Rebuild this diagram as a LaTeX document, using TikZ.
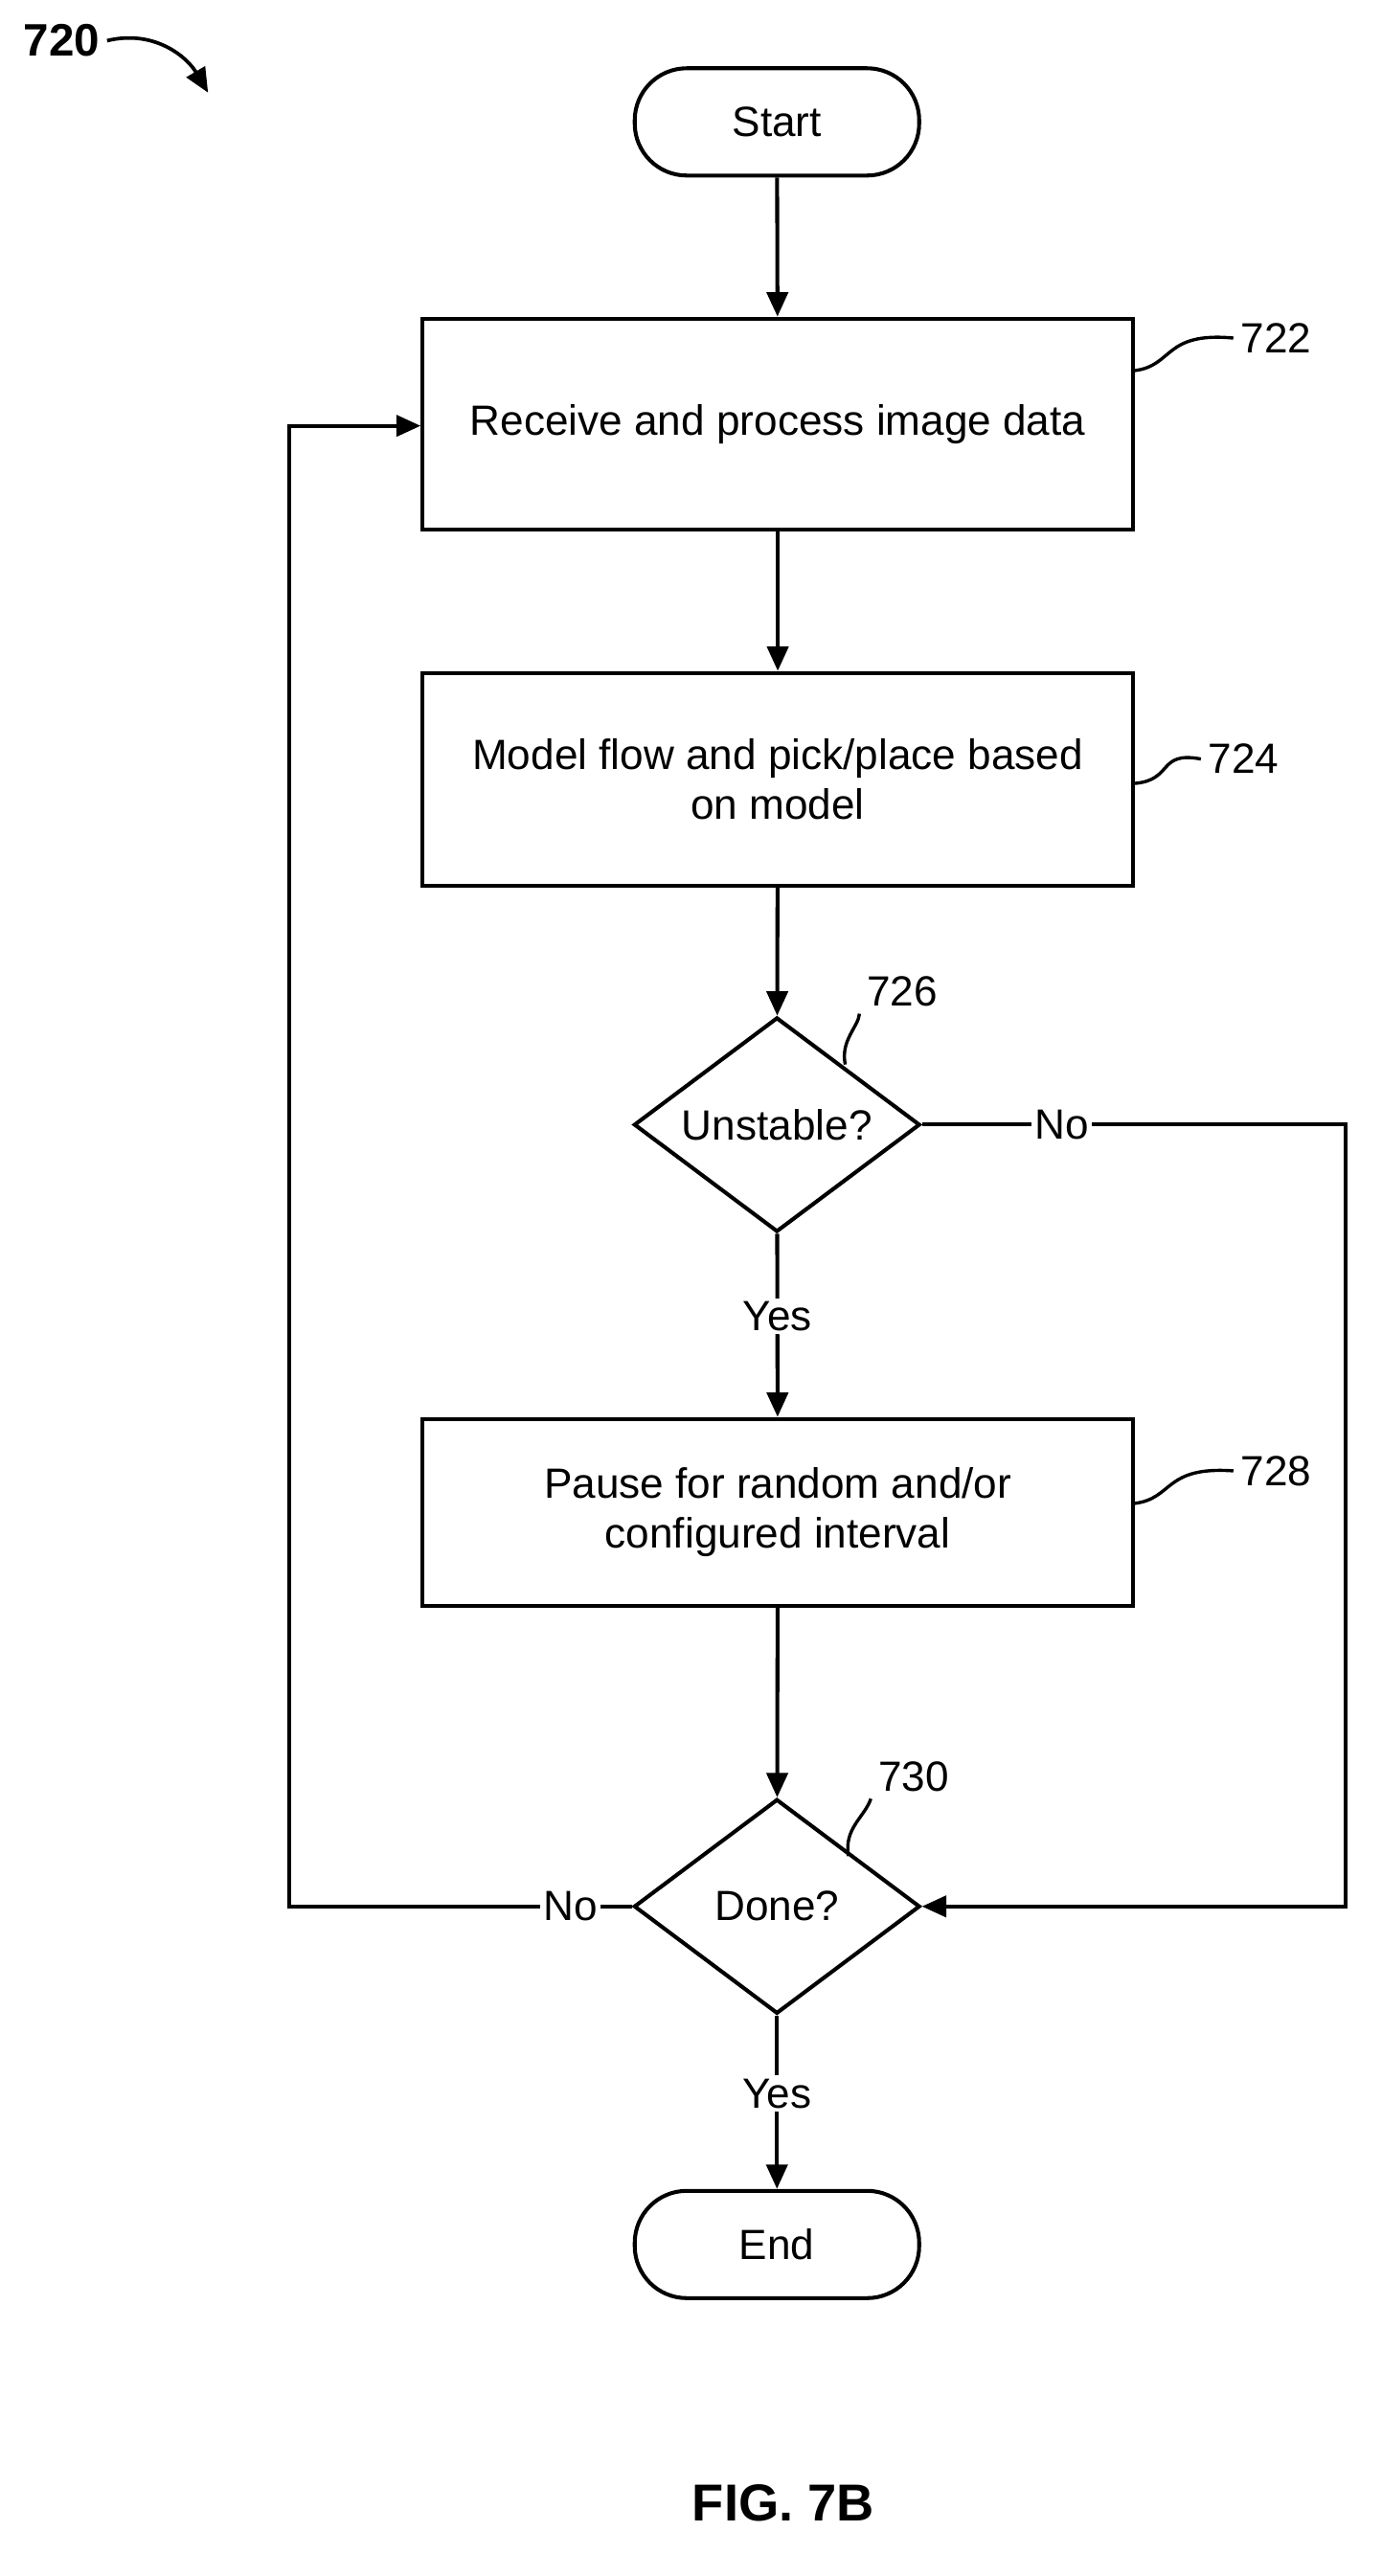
\documentclass[tikz,border=0pt]{standalone}
\usepackage{fontspec}
\setmainfont{Liberation Sans}
\usetikzlibrary{shapes.geometric,arrows.meta}
\begin{document}
\begin{tikzpicture}[x=1pt,y=-1pt,line width=2.4pt,
  font=\fontsize{26}{31}\selectfont,
  box/.style={draw,minimum width=437pt,align=center,inner sep=0pt},
  term/.style={draw,rounded corners=32pt,minimum width=175pt,minimum height=66pt},
  dia/.style={draw,diamond,aspect=1.33,minimum width=176pt,minimum height=132pt,inner sep=0pt},
  arr/.style={-{Triangle[length=15pt,width=13pt]}},
  lbl/.style={fill=white,inner sep=2pt},
  ref/.style={line width=2pt}]
\useasboundingbox (0,0) rectangle (850,1585);
\node[term] (start) at (478,75) {Start};
\node[box,minimum height=130pt] (b722) at (478.5,261) {Receive and process image data};
\node[box,minimum height=131pt] (b724) at (478.5,479.5) {Model flow and pick/place based\\on model};
\node[dia] (d726) at (478,692) {Unstable?};
\node[box,minimum height=115pt] (b728) at (478.5,930.5) {Pause for random and/or\\configured interval};
\node[dia] (d730) at (478,1173) {Done?};
\node[term] (end) at (478,1381) {End};
\coordinate (lup) at (178,262);
\coordinate (rdn) at (828,692);
\draw[arr] (start) -- (b722);
\draw[arr] (b722) -- (b724);
\draw[arr] (b724) -- (d726);
\draw[arr] (d726) -- node[lbl,pos=0.45]{Yes} (b728);
\draw[arr] (b728) -- (d730);
\draw[arr] (d730) -- node[lbl,pos=0.45]{Yes} (end);
\draw[arr] (d730.west) -- node[lbl,pos=0.18]{No} (d730.west -| lup) -- (lup) -- (b722.west |- lup);
\draw[arr] (d726.east) -- node[lbl,pos=0.33]{No} (rdn) -- (rdn |- d730.east) -- (d730.east);
% reference labels
\node (n722) at (785,208) {722};
\node (n724) at (765,467) {724};
\node (n726) at (555,610) {726};
\node (n728) at (785,905) {728};
\node (n730) at (562,1093) {730};
\draw[ref] (b722.east |- 0,228) .. controls (722,225) and (716,204) .. (n722.west);
\draw[ref] (b724.east |- 0,482) .. controls (722,480) and (712,462) .. (n724.west);
\draw[ref] (520,655) .. controls (517,640) and (528,632) .. (n726.south west);
\draw[ref] (b728.east |- 0,925) .. controls (722,922) and (716,902) .. (n728.west);
\draw[ref] (522,1142) .. controls (519,1125) and (532,1118) .. (n730.south west);
\node[font=\fontsize{28}{32}\selectfont\bfseries] (n720) at (38,25) {720};
\draw[arr,line width=2.2pt] (n720.east) .. controls (95,18) and (115,35) .. (128,57);
\node[font=\fontsize{32}{36}\selectfont\bfseries] (fig) at (482,1540) {FIG. 7B};
\end{tikzpicture}
\end{document}
